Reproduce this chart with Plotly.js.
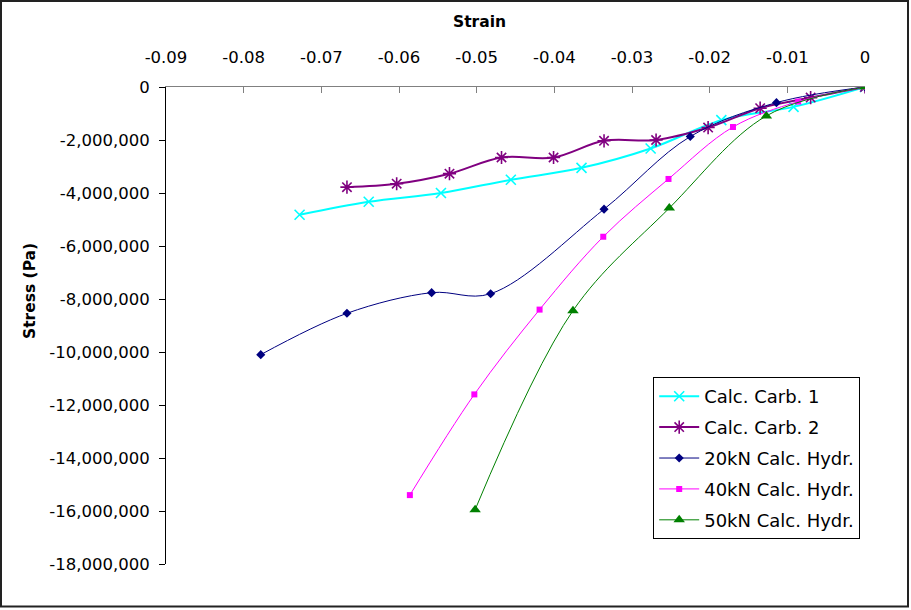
<!DOCTYPE html>
<html>
<head>
<meta charset="utf-8">
<script src="https://cdn.plot.ly/plotly-3.0.1.min.js"></script>
<style>
  html, body { margin: 0; padding: 0; background: #fff; }
  #chart { width: 911px; height: 610px; }
</style>
</head>
<body>
<div id="chart"></div>
<script>
// ---- Data ----
const seriesNames = ["Calc. Carb. 1", "Calc. Carb. 2", "20kN Calc. Hydr.", "40kN Calc. Hydr.", "50kN Calc. Hydr."];

const carb1Strain = [-0.0728, -0.0639, -0.0546, -0.0456, -0.0365, -0.0276, -0.0185, -0.0092, 0];
const carb1Stress = [-4820000, -4330000, -4000000, -3500000, -3050000, -2320000, -1250000, -750000, 0];

const carb2Strain = [-0.0667, -0.0603, -0.0535, -0.0468, -0.0401, -0.0336, -0.0269, -0.0202, -0.0135, -0.0070, 0];
const carb2Stress = [-3780000, -3650000, -3270000, -2660000, -2660000, -2030000, -2000000, -1530000, -800000, -400000, 0];

const hydr20Strain = [-0.0778, -0.0667, -0.0558, -0.0482, -0.0336, -0.0225, -0.0114, 0];
const hydr20Stress = [-10100000, -8540000, -7760000, -7800000, -4610000, -1870000, -590000, 0];

const hydr40Strain = [-0.0586, -0.0503, -0.0419, -0.0337, -0.0253, -0.0170, -0.0086, 0];
const hydr40Stress = [-15400000, -11600000, -8400000, -5650000, -3470000, -1510000, -550000, 0];

const hydr50Strain = [-0.0502, -0.0376, -0.0252, -0.0127, 0];
const hydr50Stress = [-15950000, -8440000, -4570000, -1090000, 0];

const xTickVals = [-0.09, -0.08, -0.07, -0.06, -0.05, -0.04, -0.03, -0.02, -0.01, 0];
const xTickText = ["-0.09", "-0.08", "-0.07", "-0.06", "-0.05", "-0.04", "-0.03", "-0.02", "-0.01", "0"];
const yTickVals = [0, -2000000, -4000000, -6000000, -8000000, -10000000, -12000000, -14000000, -16000000, -18000000];
const yTickText = ["0", "-2,000,000", "-4,000,000", "-6,000,000", "-8,000,000", "-10,000,000", "-12,000,000", "-14,000,000", "-16,000,000", "-18,000,000"];

const xTitle = "Strain";
const yTitle = "Stress (Pa)";

// ---- Styles ----
const FONT = "DejaVu Sans, Liberation Sans, Arial, sans-serif";

function trace(name, x, y, color, lw, symbol, msize, mline, group) {
  return {
    type: "scatter", mode: "lines+markers", name: name, x: x, y: y,
    legendgroup: group,
    line: { color: color, width: lw, shape: "spline", smoothing: 1 },
    marker: { symbol: symbol, size: msize, color: color, line: { color: color, width: mline } },
    hoverinfo: "x+y"
  };
}

const data = [
  trace(seriesNames[0], carb1Strain, carb1Stress, "#00FFFF", 2, "x-thin-open", 10, 1.6, "g1"),
  trace(seriesNames[1], carb2Strain, carb2Stress, "#800080", 2, "asterisk-open", 11, 1.6, "g2"),
  trace(seriesNames[2], hydr20Strain, hydr20Stress, "#000080", 1, "diamond", 7, 0, "g3"),
  trace(seriesNames[3], hydr40Strain, hydr40Stress, "#FF00FF", 1, "square", 6, 0, "g4"),
  trace(seriesNames[4], hydr50Strain, hydr50Stress, "#008000", 1, "triangle-up", 10, 0, "g5")
];

const layout = {
  width: 911, height: 610,
  margin: { l: 166, r: 46, t: 87, b: 46 },
  paper_bgcolor: "#fff", plot_bgcolor: "#fff",
  font: { family: FONT, size: 16.5, color: "#000" },
  showlegend: true,
  legend: {
    x: 0.697, y: 0.392, xanchor: "left", yanchor: "top",
    bgcolor: "#fff", bordercolor: "#000", borderwidth: 1,
    font: { family: FONT, size: 18, color: "#000" },
    traceorder: "grouped", tracegroupgap: 4.5, itemwidth: 40
  },
  xaxis: {
    side: "top", range: [-0.09, 0], autorange: false,
    tickmode: "array", tickvals: xTickVals, ticktext: xTickText,
    ticks: "inside", ticklen: 6, tickcolor: "#808080", tickwidth: 1,
    showline: true, linecolor: "#808080", linewidth: 1,
    showgrid: false, zeroline: false, mirror: false,
    ticklabelstandoff: 16,
    tickfont: { family: FONT, size: 16.5, color: "#000" }
  },
  yaxis: {
    range: [-18000000, 0], autorange: false,
    tickmode: "array", tickvals: yTickVals, ticktext: yTickText,
    ticks: "outside", ticklen: 6, tickcolor: "#000", tickwidth: 1,
    showline: true, linecolor: "#000", linewidth: 1,
    showgrid: false, zeroline: false,
    ticklabelstandoff: 6,
    tickfont: { family: FONT, size: 16.5, color: "#000" }
  },
  annotations: [
    { text: "<b>" + xTitle + "</b>", xref: "paper", yref: "paper",
      x: (479 - 166) / 699, y: (564 - 22) / 477, xanchor: "center", yanchor: "middle",
      showarrow: false, font: { family: FONT, size: 15.5, color: "#000" } },
    { text: "<b>" + yTitle + "</b>", xref: "paper", yref: "paper",
      x: (30 - 166) / 699, y: (564 - 291) / 477, xanchor: "center", yanchor: "middle",
      textangle: -90, showarrow: false, font: { family: FONT, size: 15.5, color: "#000" } }
  ],
  shapes: [
    { type: "rect", xref: "paper", yref: "paper",
      x0: (1 - 166) / 699, x1: (908 - 166) / 699,
      y0: (564 - 606.5) / 477, y1: (564 - 1) / 477,
      line: { color: "#222", width: 2 }, fillcolor: "rgba(0,0,0,0)", layer: "below" }
  ]
};

Plotly.newPlot("chart", data, layout, { displayModeBar: false, staticPlot: true });
</script>
</body>
</html>
